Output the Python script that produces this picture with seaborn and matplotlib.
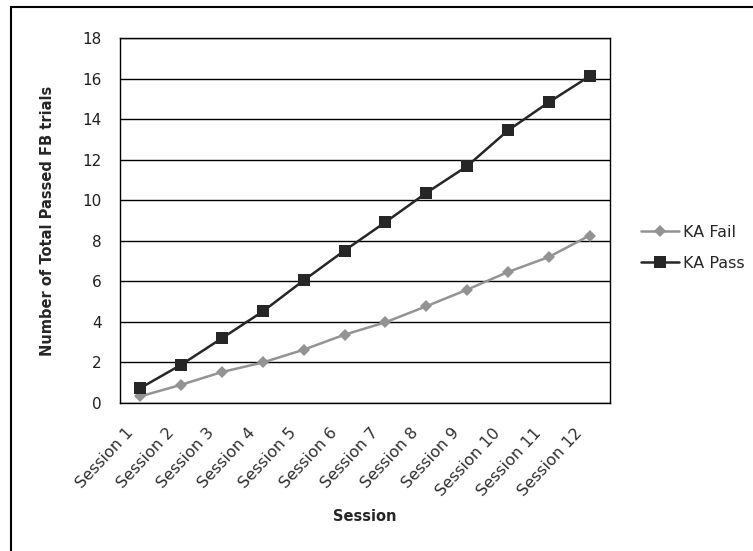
import numpy as np
import pandas as pd
import matplotlib
matplotlib.use("Agg")
import matplotlib.pyplot as plt
from matplotlib.patches import Rectangle
import seaborn as sns

# ── DATA ────────────────────────────────────────────────────
sessions = [f"Session {i}" for i in range(1, 13)]
ka_fail = [0.33, 0.90, 1.53, 2.00, 2.63, 3.37, 3.98, 4.77, 5.59, 6.46, 7.20, 8.26]
ka_pass = [0.74, 1.89, 3.20, 4.52, 6.05, 7.52, 8.92, 10.36, 11.68, 13.44, 14.83, 16.12]
y_ticks = list(range(0, 19, 2))

df = pd.DataFrame({
    "pos": list(range(1, 13)) * 2,
    "value": ka_fail + ka_pass,
    "group": ["KA Fail"] * 12 + ["KA Pass"] * 12,
})

# ── STYLE ───────────────────────────────────────────────────
sns.set_style("white")
plt.rcParams["font.family"] = ["DejaVu Sans"]

fig = plt.figure(figsize=(7.53, 5.51), dpi=100)
ax = fig.add_axes([0.1594, 0.2686, 0.6507, 0.6624])

palette = {"KA Fail": "#939393", "KA Pass": "#262626"}
markers = {"KA Fail": "D", "KA Pass": "s"}
sizes = {"KA Fail": 6, "KA Pass": 9}

for grp in ["KA Fail", "KA Pass"]:
    sub = df[df["group"] == grp]
    sns.lineplot(data=sub, x="pos", y="value", ax=ax, color=palette[grp],
                 marker=markers[grp], markersize=sizes[grp], markeredgewidth=0,
                 linewidth=1.8, label=grp, zorder=3)

# ── AXES ────────────────────────────────────────────────────
ax.set_xlim(0.5, 12.5)
ax.set_ylim(0, 18)
ax.set_yticks(y_ticks)
ax.yaxis.grid(True, color="black", linewidth=1.0)
ax.set_axisbelow(True)
for s in ax.spines.values():
    s.set_color("black")
    s.set_linewidth(1.0)

ax.tick_params(axis="y", direction="out", length=5, width=1, colors="black",
               labelsize=11, pad=8)
for t in ax.get_yticklabels():
    t.set_color("#202020")

# label ticks (no marks) at left edge of each category, small boundary ticks
lab_pos = [i - 0.5 + 0.12 for i in range(1, 13)]
ax.set_xticks(lab_pos)
ax.set_xticklabels(sessions, rotation=47, ha="right", rotation_mode="anchor",
                   fontsize=11.5, color="#303030")
ax.tick_params(axis="x", length=0, pad=16)
ax.set_xticks([i - 0.5 for i in range(1, 12)] + [12.5], minor=True)
ax.tick_params(axis="x", which="minor", direction="out", length=5, width=1,
               colors="black")

ax.set_xlabel("Session", fontsize=10.5, fontweight="bold", labelpad=7)
ax.set_ylabel("Number of Total Passed FB trials", fontsize=10.5,
              fontweight="bold", labelpad=20)

ax.legend(loc="center left", bbox_to_anchor=(1.05, 0.426), frameon=False,
          fontsize=11.5, handlelength=2.4, handletextpad=0.25, labelspacing=1.0,
          borderaxespad=0)

# outer chart frame (cut off at right and bottom like the scan)
fig.patches.append(Rectangle((11 / 753, -0.05), 1.0, 1.05 - 7 / 551,
                             transform=fig.transFigure, fill=False,
                             edgecolor="black", linewidth=1.5))

fig.savefig("out.png", dpi=100)
